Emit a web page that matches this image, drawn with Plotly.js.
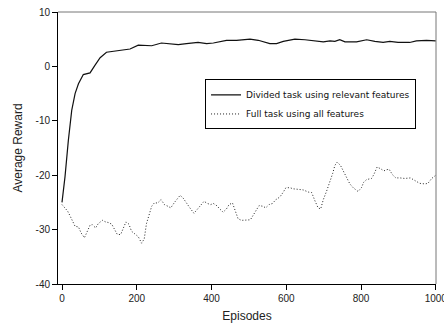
<!DOCTYPE html>
<html><head><meta charset="utf-8">
<script src="https://cdn.plot.ly/plotly-3.0.1.min.js"></script>
<style>html,body{margin:0;padding:0;background:#fff}#c{width:444px;height:328px}</style>
</head><body><div id="c"></div>
<script>
const dividedX = [0,8,17,26,35,44,57,75,88,102,119,142,160,182,204,222,240,266,280,311,333,364,387,405,440,467,503,525,556,574,592,610,623,650,681,699,717,730,743,757,788,815,837,859,877,899,930,948,975,1000];
const dividedY = [-25,-20.3,-13.6,-8.1,-5.0,-3.2,-1.5,-1.2,0.2,1.6,2.6,2.8,2.9,3.2,3.9,3.9,3.8,4.3,4.2,4.0,4.2,4.4,4.2,4.3,4.8,4.8,5.0,4.8,4.2,4.2,4.6,4.8,5.0,4.9,4.7,4.5,4.7,4.6,4.9,4.5,4.5,4.9,4.6,4.4,4.6,4.4,4.4,4.7,4.8,4.7];
const fullX = [0,8,15,21,28,35,44,51,60,69,75,81,90,97,108,117,124,133,140,148,157,164,171,179,186,195,204,213,220,226,233,240,247,256,265,274,283,291,302,316,324,335,342,353,362,371,380,389,398,405,414,422,431,440,447,456,462,467,471,480,494,504,511,519,527,537,545,554,563,572,583,592,599,610,618,632,645,659,668,676,685,692,699,708,717,724,730,736,745,752,761,770,779,792,801,807,815,828,834,843,852,861,868,875,884,893,904,917,932,944,957,971,979,989,1000];
const fullY = [-25.4,-26.0,-26.6,-27.4,-28.4,-29.4,-29.5,-30.6,-31.5,-30.1,-29.2,-29.1,-29.7,-28.9,-28.3,-28.6,-28.7,-29.0,-29.8,-30.9,-30.9,-29.8,-28.6,-29.0,-30.3,-30.8,-31.3,-32.5,-31.7,-28.9,-27.1,-25.7,-25.1,-25.1,-24.5,-25.4,-25.7,-26.0,-24.9,-23.7,-24.2,-25.4,-26.0,-27.0,-26.3,-25.7,-24.8,-25.2,-25.4,-25.2,-25.6,-26.2,-26.8,-26.2,-25.4,-25.1,-26.2,-27.1,-28.0,-28.3,-28.3,-28.2,-27.4,-26.5,-25.6,-25.7,-26.0,-25.4,-25.2,-24.5,-24.0,-23.1,-22.3,-22.3,-22.5,-22.6,-22.7,-23.1,-23.2,-24.6,-26.0,-26.2,-24.5,-22.9,-21.3,-19.7,-18.2,-17.6,-18.2,-19.2,-20.6,-21.6,-22.3,-23.0,-22.3,-21.3,-20.8,-20.6,-19.9,-18.5,-18.8,-19.2,-19.0,-18.9,-19.9,-20.5,-20.5,-20.6,-20.5,-21.0,-21.5,-21.6,-21.5,-20.6,-20.0];
const xTicks = [0,200,400,600,800,1000];
const yTicks = [-40,-30,-20,-10,0,10];
const seriesNames = ["Divided task using relevant features","Full task using all features"];

const traces = [
  {x: dividedX, y: dividedY, name: seriesNames[0], mode: 'lines', line: {color: '#111', width: 1.2}},
  {x: fullX, y: fullY, name: seriesNames[1], mode: 'lines', line: {color: '#222', width: 1, dash: '1px,2px'}}
];
const axisFont = {family: 'Arial, Liberation Sans, sans-serif', size: 10, color: '#222'};
const layout = {
  width: 444, height: 328,
  margin: {l: 58, r: 8, t: 12, b: 44},
  paper_bgcolor: '#fff', plot_bgcolor: '#fff',
  showlegend: true,
  legend: {x: 0.389, y: 0.752, xanchor: 'left', yanchor: 'top', bordercolor: '#000', borderwidth: 1,
    bgcolor: '#fff', font: {family: 'DejaVu Sans, Verdana, sans-serif', size: 9, color: '#111'},
    itemwidth: 30, tracegroupgap: 0},
  xaxis: {range: [-10.7, 1000.5], tickvals: xTicks, ticktext: xTicks.map(String), ticks: 'outside', ticklen: 5,
    tickcolor: '#000', showgrid: false, zeroline: false, showline: true, linecolor: '#000', linewidth: 1,
    ticklabeloverflow: 'allow',
    tickfont: axisFont, title: {text: 'Episodes', font: {family: 'Arial, Liberation Sans, sans-serif', size: 12, color: '#222'}, standoff: 8}},
  yaxis: {range: [-40, 10], tickvals: yTicks, ticktext: yTicks.map(String), ticks: 'outside', ticklen: 5,
    tickcolor: '#000', showgrid: false, zeroline: false, showline: true, linecolor: '#000', linewidth: 1,
    tickfont: axisFont, title: {text: 'Average Reward', font: {family: 'Arial, Liberation Sans, sans-serif', size: 12, color: '#222'}, standoff: 10}},
  shapes: [
    {type: 'line', xref: 'paper', yref: 'paper', x0: 0, x1: 1, y0: 1, y1: 1, line: {color: '#777', width: 1}},
    {type: 'line', xref: 'paper', yref: 'paper', x0: 1, x1: 1, y0: 0, y1: 1, line: {color: '#777', width: 1}}
  ]
};
Plotly.newPlot('c', traces, layout, {staticPlot: true});
</script></body></html>
